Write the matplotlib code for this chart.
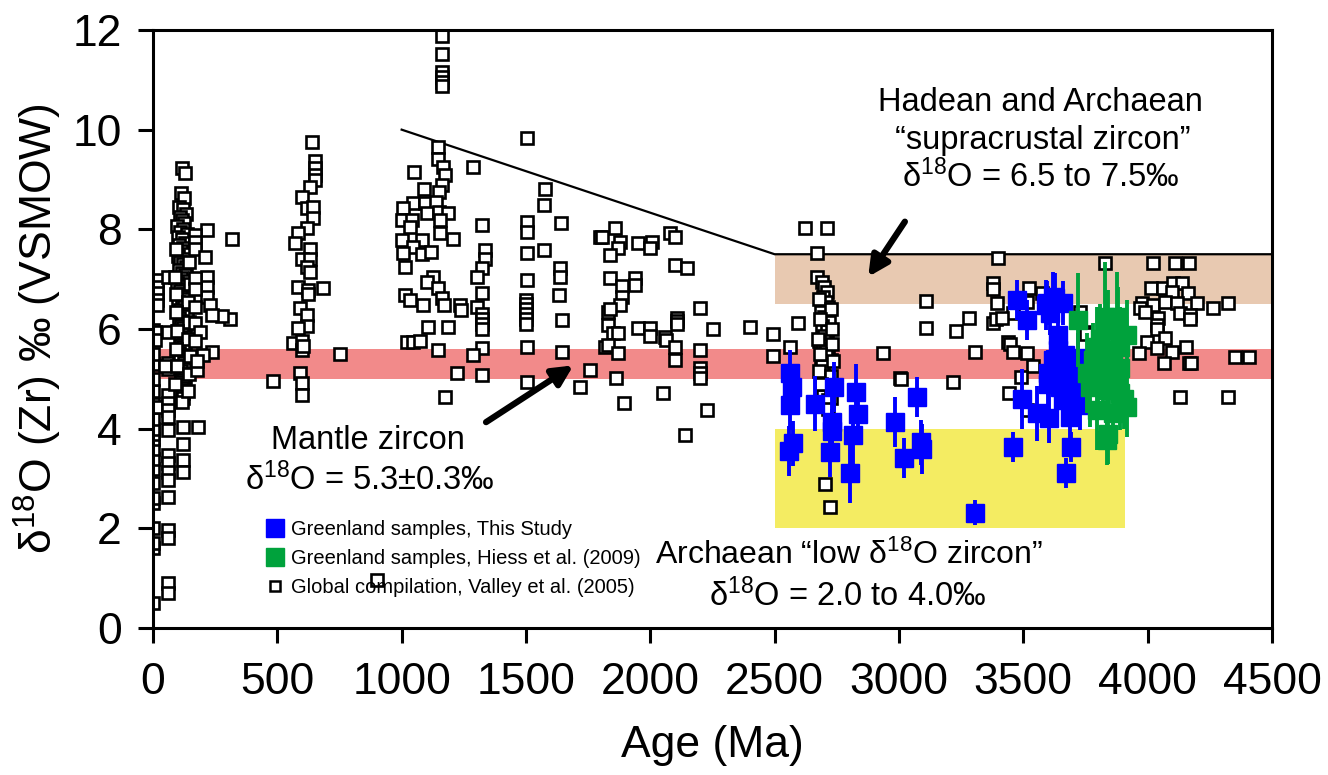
import matplotlib
matplotlib.use("Agg")
import matplotlib.pyplot as plt
from matplotlib.lines import Line2D

plt.rcParams["font.family"] = "Liberation Sans"
plt.rcParams["mathtext.fontset"] = "custom"
plt.rcParams["mathtext.rm"] = "Liberation Sans"
plt.rcParams["mathtext.it"] = "Liberation Sans:italic"

# global compilation, Valley et al. (2005), cluster by cluster
cen_age = [0, 0, 0, 0, 0, 0, 0, 0, 0, 0, 0, 0, 0, 0, 0, 0, 0, 0, 0, 0, 0,
           15, 15, 15, 15, 15, 15, 8, 8]
cen_d18o = [0.5, 1.6, 1.7, 2.0, 2.5, 2.6, 2.9, 3.2, 3.4, 3.6, 3.8, 3.9, 4.0, 4.2, 4.5,
            4.75, 5.0, 5.3, 5.5, 5.8, 5.98,
            6.98, 6.85, 6.72, 6.58, 6.48, 4.43, 5.94, 5.78]

mes_age = [60, 60, 60, 60, 60, 60, 60, 60, 60, 60, 60, 60, 60, 60, 60, 60, 60, 60, 50]
mes_d18o = [4.68, 4.52, 4.37, 4.23, 3.97, 3.47, 3.31, 3.13, 2.97, 2.63, 1.97, 1.81,
            0.90, 0.70, 5.94, 5.32, 5.2, 7.04, 5.25]

cret_age = [118, 130, 112, 125, 104, 120, 132, 108, 115, 126, 98, 122, 110, 136, 102,
            117, 128, 106, 121, 113, 133, 100, 124, 109, 119, 131, 103, 115, 127, 111,
            123, 97, 118, 134, 107, 121, 114, 129, 101, 116, 126, 110, 120, 135, 105,
            118, 128, 112, 122, 99, 116, 130, 108, 124, 113, 119, 127, 104, 121, 115,
            110, 125, 117, 123, 112, 118, 128, 120, 114, 122, 116, 125, 119, 121, 117,
            92, 145, 90, 148, 94, 142, 91, 146, 95, 140, 93, 147, 96, 143, 90, 141]
cret_d18o = [9.23, 9.13, 8.72, 8.62, 8.45, 8.40, 8.31, 8.25, 8.18, 8.12, 8.06, 8.01, 7.95,
             7.90, 7.84, 7.80, 7.73, 7.68, 7.62, 7.57, 7.51, 7.46, 7.41, 7.35, 7.30, 7.24,
             7.19, 7.13, 7.08, 7.02, 6.97, 6.92, 6.86, 6.81, 6.76, 6.70, 6.65, 6.60, 6.54,
             6.49, 6.44, 6.38, 6.33, 6.27, 6.22, 6.17, 6.11, 6.06, 6.01, 5.95, 5.90, 5.84,
             5.79, 5.74, 5.68, 5.63, 5.58, 5.52, 5.47, 5.42, 5.36, 5.31, 5.25, 5.20, 5.15,
             5.09, 5.04, 4.98, 4.93, 4.88, 4.82, 4.77, 4.71, 4.62, 4.53,
             7.60, 7.35, 7.05, 6.90, 6.70, 6.55, 6.35, 6.15, 5.95, 5.80, 5.60, 5.45, 5.25,
             5.10, 4.90, 4.75]

late_age = [217, 318, 310, 277, 237, 177, 181, 121, 120, 120, 120, 170, 170, 170, 209,
            217, 217, 217, 170, 170, 170, 229, 237, 170, 190, 170, 201, 175]
late_d18o = [7.99, 7.80, 6.20, 6.26, 5.54, 5.18, 4.03, 4.03, 3.37, 3.13, 3.70, 7.89, 7.75,
             7.60, 7.45, 7.04, 6.85, 6.64, 7.02, 6.80, 6.44, 6.48, 6.28, 6.12, 5.94, 5.75,
             5.48, 5.35]

neo_age = [640, 651, 651, 651, 651, 631, 599, 619, 643, 643, 619, 583, 571, 631, 599, 631,
           619, 631, 583, 623, 684, 623, 591, 619, 619, 583, 563, 599, 599, 605, 591, 599,
           599, 752, 483]
neo_d18o = [9.75, 9.37, 9.23, 9.10, 8.99, 8.85, 8.65, 8.43, 8.45, 8.23, 8.03, 7.93, 7.73,
            7.60, 7.40, 7.40, 7.24, 7.15, 6.84, 6.78, 6.82, 6.70, 6.42, 6.28, 6.05, 6.02,
            5.72, 5.75, 5.58, 5.65, 5.12, 4.92, 4.68, 5.50, 4.96]

meso_age = [1162, 1162, 1162, 1162, 1162, 1162, 1504, 1146, 1146, 1166, 1050, 1287, 1174,
            1162, 1090, 1150, 1576, 1572, 1046, 1094, 1140, 1005, 1001, 1040, 1102, 1150,
            1186, 1034, 1155, 1323, 1504, 1504, 1641, 1001, 1206, 1080, 1154, 1335, 1335,
            1504, 1572, 1797, 1046, 1080, 1120, 1005, 1013, 1323, 1303, 1637, 1637, 1126,
            1102, 1146, 1504, 1323, 1013, 1034, 1086, 1162, 1170, 1235, 1240, 1303, 1323,
            1323, 1323, 1323, 1500, 1500, 1500, 1500, 1500, 1500, 1633, 1645, 1106, 1021,
            1045, 1075, 1186, 1146, 1323, 1287, 1504, 1645, 1222, 1323, 1504, 1757, 1717,
            1174, 900]
meso_d18o = [11.88, 11.52, 11.16, 11.06, 10.96, 10.88, 9.83, 9.65, 9.41, 9.25, 9.15, 9.25,
             9.09, 8.89, 8.81, 8.75, 8.81, 8.49, 8.53, 8.53, 8.55, 8.43, 8.19, 8.19, 8.33,
             8.35, 8.33, 8.05, 8.19, 8.09, 8.15, 7.95, 8.13, 7.79, 7.81, 7.79, 7.93, 7.59,
             7.40, 7.52, 7.59, 7.85, 7.65, 7.50, 7.55, 7.52, 7.24, 7.22, 7.04, 7.22, 7.04,
             7.04, 6.94, 6.82, 6.98, 6.72, 6.68, 6.58, 6.48, 6.62, 6.48, 6.48, 6.38, 6.44,
             6.30, 6.20, 6.10, 6.00, 6.58, 6.50, 6.40, 6.30, 6.20, 6.10, 6.68, 6.18, 6.04,
             5.74, 5.74, 5.76, 6.04, 5.58, 5.62, 5.48, 5.64, 5.54, 5.12, 5.08, 4.94, 5.18,
             4.84, 4.64, 0.96]

paleo_age = [1858, 1806, 1878, 1950, 2006, 2000, 2079, 2099, 1870, 1838, 2099, 2147, 1838,
             1886, 1938, 1938, 1886, 1878, 1830, 1838, 2200, 1830, 1850, 1870, 1950, 1999,
             1999, 2059, 2062, 2107, 2107, 2107, 2252, 2401, 2493, 2493, 1818, 1830, 1870,
             2099, 2099, 2200, 2200, 2200, 2200, 1862, 1894, 2051, 2228, 2139]
paleo_d18o = [8.03, 7.85, 7.75, 7.73, 7.75, 7.62, 7.93, 7.85, 7.62, 7.48, 7.28, 7.22, 7.02,
              6.86, 7.02, 6.88, 6.64, 6.48, 6.34, 6.40, 6.42, 6.08, 5.92, 5.92, 6.02, 6.02,
              5.86, 5.84, 5.78, 6.22, 6.16, 6.10, 6.00, 6.04, 5.90, 5.46, 5.64, 5.68, 5.52,
              5.64, 5.38, 5.58, 5.22, 5.12, 5.02, 5.02, 4.52, 4.72, 4.38, 3.87]

arch_age = [2622, 2710, 2670, 2670, 3398, 3378, 3380, 3394, 3108, 3108, 3281, 3229, 3378,
            3390, 2594, 2562, 2936, 3305, 3004, 3010, 3217, 2702, 2722,
            2690, 2700, 2710, 2695, 2705, 2715, 2685, 2700, 2720, 2690, 2710, 2700, 2680,
            2695, 2715, 2705, 2690, 2725, 2700, 2685, 2710, 2695, 2720, 2705, 2690, 2715,
            2700, 2710, 2695, 2725, 2705, 2690, 2714, 2714,
            2678, 2728, 2682, 2732, 2676, 2730, 2684, 2735, 2680, 2726, 2688, 2733]
arch_d18o = [8.03, 8.03, 7.53, 7.04, 7.42, 6.92, 6.80, 6.52, 6.56, 6.02, 6.22, 5.96, 6.12,
             6.20, 6.12, 5.64, 5.52, 5.54, 5.02, 5.00, 4.94, 2.89, 2.43,
             6.95, 6.85, 6.75, 6.65, 6.55, 6.45, 6.35, 6.25, 6.15, 6.05, 5.95, 5.85, 5.75,
             5.68, 5.60, 5.52, 5.45, 5.38, 5.30, 5.22, 5.15, 5.08, 5.00, 4.95, 4.88, 4.80,
             4.75, 4.70, 4.65, 4.62, 5.55, 5.25, 4.58, 4.40,
             6.60, 6.40, 6.20, 6.00, 5.80, 5.70, 5.50, 5.35, 5.15, 5.05, 4.90, 4.85]

had_age = [3828, 4021, 4110, 4166, 3523, 3575, 3515, 3458, 3414, 4013, 4061, 4102, 4138,
           4098, 4162, 3977, 3969, 4021, 4070, 4118, 4198, 4263, 4323, 3989, 4130, 4170,
           4170, 4041, 4037, 4037, 4070, 3997, 4037, 3965, 4098, 4154, 4065, 4166, 4175,
           4351, 4407, 4130, 4323, 3728, 3748, 3752, 3438, 3445, 3458, 3515, 3539, 3491,
           3442, 3515]
had_d18o = [7.32, 7.32, 7.32, 7.32, 6.82, 6.72, 6.54, 6.32, 6.22, 6.82, 6.82, 6.92, 6.92,
            6.74, 6.72, 6.52, 6.42, 6.48, 6.54, 6.52, 6.52, 6.42, 6.52, 6.34, 6.32, 6.28,
            6.20, 6.22, 6.08, 6.00, 5.82, 5.74, 5.62, 5.52, 5.54, 5.64, 5.32, 5.32, 5.32,
            5.44, 5.44, 4.64, 4.64, 6.34, 5.94, 5.90, 5.74, 5.70, 5.54, 5.52, 5.26, 5.04,
            4.72, 4.38]

glob_age = cen_age + mes_age + cret_age + late_age + neo_age + meso_age + paleo_age + arch_age + had_age
glob_d18o = cen_d18o + mes_d18o + cret_d18o + late_d18o + neo_d18o + meso_d18o + paleo_d18o + arch_d18o + had_d18o

# Greenland samples, this study
blue_age = [2562, 2570, 2562, 2662, 2574, 2558, 2738, 2730, 2732, 2722, 2827, 2835, 2815,
            2803, 2984, 3072, 3088, 3092, 3020, 3305, 3474, 3515, 3458, 3494, 3555, 3603,
            3591, 3627, 3659, 3640, 3640, 3619, 3599, 3601, 3667, 3719, 3675, 3715, 3659,
            3687, 3728, 3691, 3671, 3647, 3680, 3625, 3595, 3619, 3607]
blue_d18o = [5.12, 4.84, 4.48, 4.50, 3.71, 3.55, 4.84, 4.14, 3.95, 3.53, 4.74, 4.30, 3.87,
             3.11, 4.13, 4.64, 3.73, 3.60, 3.41, 2.31, 6.58, 6.18, 3.63, 4.60, 4.31, 4.21,
             6.48, 6.62, 6.52, 5.88, 5.58, 5.38, 5.12, 4.90, 5.48, 5.42, 5.04, 4.64, 4.58,
             4.24, 4.48, 3.63, 3.11, 4.84, 4.84, 5.12, 6.52, 6.64, 6.32]
blue_err = [0.45, 0.45, 0.5, 0.55, 0.45, 0.5, 0.5, 0.5, 0.45, 0.5, 0.55, 0.5, 0.6, 0.6, 0.5,
            0.4, 0.45, 0.5, 0.4, 0.25, 0.4, 0.4, 0.3, 0.6, 0.55, 0.5, 0.5, 0.5, 0.45, 0.5,
            0.45, 0.4, 0.45, 0.5, 0.45, 0.5, 0.4, 0.45, 0.5, 0.5, 0.5, 0.3, 0.3, 0.45, 0.45,
            0.45, 0.45, 0.5, 0.45]

# Greenland samples, Hiess et al. (2009)
green_age = [3719, 3828, 3876, 3840, 3916, 3796, 3860, 3890, 3780, 3846, 3890, 3756, 3820,
             3870, 3768, 3836, 3890, 3916, 3796, 3860, 3836, 3842, 3810, 3880, 3800, 3905]
green_d18o = [6.18, 6.24, 6.24, 5.98, 5.88, 5.64, 5.58, 5.64, 5.38, 5.30, 5.22, 5.12, 5.04,
              5.04, 4.84, 4.78, 4.72, 4.44, 4.38, 4.32, 3.77, 3.90, 5.80, 6.05, 4.95, 4.60]
green_err = [0.95, 1.1, 0.9, 0.8, 0.7, 0.8, 0.7, 0.8, 0.75, 0.8, 0.7, 0.8, 0.7, 0.75, 0.8,
             0.7, 0.75, 0.6, 0.8, 0.7, 0.5, 0.6, 0.7, 0.8, 0.7, 0.6]

fig = plt.figure(figsize=(13.28, 7.75), dpi=100)
ax = fig.add_axes([0.1152, 0.1897, 0.8426, 0.7716])

ax.fill_between([0, 4500], 5.0, 5.6, color="#F28A8A", lw=0, zorder=0)
ax.fill_between([2500, 4500], 6.5, 7.5, color="#E8C9B1", lw=0, zorder=0)
ax.fill_between([2500, 3910], 2.0, 4.0, color="#F4EC62", lw=0, zorder=0)
ax.plot([1000, 2500, 4500], [10, 7.5, 7.5], color="black", lw=1.6, zorder=1)

ax.plot(glob_age, glob_d18o, "s", mfc="white", mec="black", ms=8.5, mew=1.9, ls="none", zorder=2)
ax.errorbar(blue_age, blue_d18o, yerr=blue_err, fmt="s", color="#0000FF", ms=12.5,
            elinewidth=2.8, capsize=0, zorder=3)
ax.errorbar(green_age, green_d18o, yerr=green_err, fmt="s", color="#00A23C", ms=12.5,
            elinewidth=2.8, capsize=0, zorder=4)

ax.set_xlim(0, 4500)
ax.set_ylim(0, 12)
ax.set_xticks(range(0, 4501, 500))
ax.set_yticks(range(0, 13, 2))
ax.tick_params(direction="out", length=10.5, width=2.2, labelsize=32)
ax.tick_params(axis="x", pad=14)
ax.tick_params(axis="y", pad=12)
for s in ax.spines.values():
    s.set_linewidth(2.2)
ax.set_xlabel("Age (Ma)", fontsize=32, labelpad=16)
ax.set_ylabel("δ$^{18}$O (Zr) ‰ (VSMOW)", fontsize=32, labelpad=6)

ax.text(3567, 10.54, "Hadean and Archaean", fontsize=23.5, ha="center", va="center")
ax.text(3580, 9.78, "\u201csupracrustal zircon\u201d", fontsize=23.5, ha="center", va="center")
ax.text(3570, 9.06, "δ$^{18}$O = 6.5 to 7.5‰", fontsize=23.5, ha="center", va="center")
ax.text(865, 3.77, "Mantle zircon", fontsize=23.5, ha="center", va="center")
ax.text(873, 2.97, "δ$^{18}$O = 5.3±0.3‰", fontsize=23.5, ha="center", va="center")
ax.text(2800, 1.45, "Archaean \u201clow δ$^{18}$O zircon\u201d", fontsize=23, ha="center", va="center")
ax.text(2795, 0.64, "δ$^{18}$O = 2.0 to 4.0‰", fontsize=23.5, ha="center", va="center")

arrow = dict(arrowstyle="-|>", lw=4.5, color="black", mutation_scale=30)
ax.annotate("", xy=(1700, 5.3), xytext=(1330, 4.1), arrowprops=arrow)
ax.annotate("", xy=(2870, 7.0), xytext=(3030, 8.2), arrowprops=arrow)

handles = [
    Line2D([], [], marker="s", ls="none", color="#0000FF", ms=13),
    Line2D([], [], marker="s", ls="none", color="#00A23C", ms=13),
    Line2D([], [], marker="s", ls="none", mfc="white", mec="black", ms=7, mew=1.8),
]
labels = ["Greenland samples, This Study", "Greenland samples, Hiess et al. (2009)",
          "Global compilation, Valley et al. (2005)"]
ax.legend(handles, labels, loc="upper left", bbox_to_anchor=(0.093, 0.198), frameon=False,
          fontsize=14.5, handlelength=0.8, handletextpad=0.4, labelspacing=0.5, borderpad=0)

fig.savefig("out.png", dpi=100)
